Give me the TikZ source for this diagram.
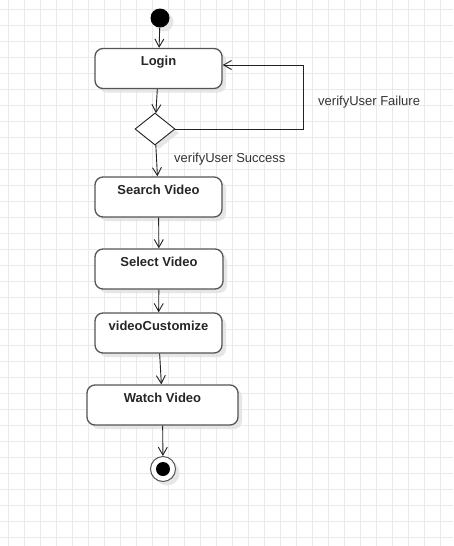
\documentclass[tikz,border=0pt]{standalone}
\usepackage{fontspec}
\setmainfont{Liberation Sans}
\usetikzlibrary{arrows.meta,shapes.geometric,shadows}
\definecolor{gridc}{HTML}{EAEAEA}
\definecolor{boxc}{HTML}{555555}
\definecolor{linec}{HTML}{222222}
\definecolor{shadc}{HTML}{E0E0E0}
\begin{document}
\begin{tikzpicture}[x=1pt,y=-1pt,
  shd/.style={drop shadow={shadow xshift=4pt,shadow yshift=-4pt,fill=shadc,opacity=0.8}},
  act/.style={draw=boxc,line width=1.3pt,fill=white,rounded corners=8pt,shd,
    minimum height=40pt,inner sep=0pt,text height=17.4pt,text depth=22.6pt,
    font=\fontsize{13}{15}\selectfont\bfseries,text=black!85},
  dec/.style={diamond,draw=linec,line width=0.9pt,fill=white,shd,minimum width=40pt,minimum height=32pt,inner sep=0pt,aspect=1.25},
  arr/.style={draw=linec,line width=0.9pt,-{Straight Barb[length=8pt,width=9pt]}},
  lbl/.style={font=\fontsize{13}{15}\selectfont,text=black!80,inner sep=0pt,anchor=west}]
\useasboundingbox (0,0) rectangle (453,546);
\fill[white] (0,0) rectangle (453,546);
\foreach \x in {8,24,...,452} \draw[gridc,line width=0.8pt] (\x,0) -- (\x,546);
\foreach \y in {9,25,...,545} \draw[gridc,line width=0.8pt] (0,\y) -- (453,\y);

\node[circle,fill=black,minimum size=19pt,inner sep=0pt,shd] (start) at (160,18) {};
\node[act,minimum width=127pt] (login) at (158.5,68.5) {Login};
\node[dec] (dia) at (155,129) {};
\node[act,minimum width=127pt] (search) at (158.5,197) {Search Video};
\node[act,minimum width=128pt] (select) at (159,269) {Select Video};
\node[act,minimum width=127pt] (custom) at (158.5,333) {videoCustomize};
\node[act,minimum width=151pt] (watch) at (162.5,405) {Watch Video};
\node[circle,draw=boxc,line width=1pt,fill=white,minimum size=25pt,inner sep=0pt,shd] (end) at (163,469) {};
\node[circle,fill=black,minimum size=14pt,inner sep=0pt] (endin) at (end) {};

\coordinate (loopc) at (303,129);
\draw[arr] (start) -- (login);
\draw[arr] (login) -- (dia);
\draw[arr] (dia.east) -- (loopc) |- ([yshift=3.5pt]login.east);
\draw[arr] (dia) -- (search);
\draw[arr] (search) -- (select);
\draw[arr] (select) -- (custom);
\draw[arr] (custom) -- (watch);
\draw[arr] (watch) -- (end);

\node[lbl] (fail) at (318,102) {verifyUser Failure};
\node[lbl] (succ) at (174,159) {verifyUser Success};
\end{tikzpicture}
\end{document}
